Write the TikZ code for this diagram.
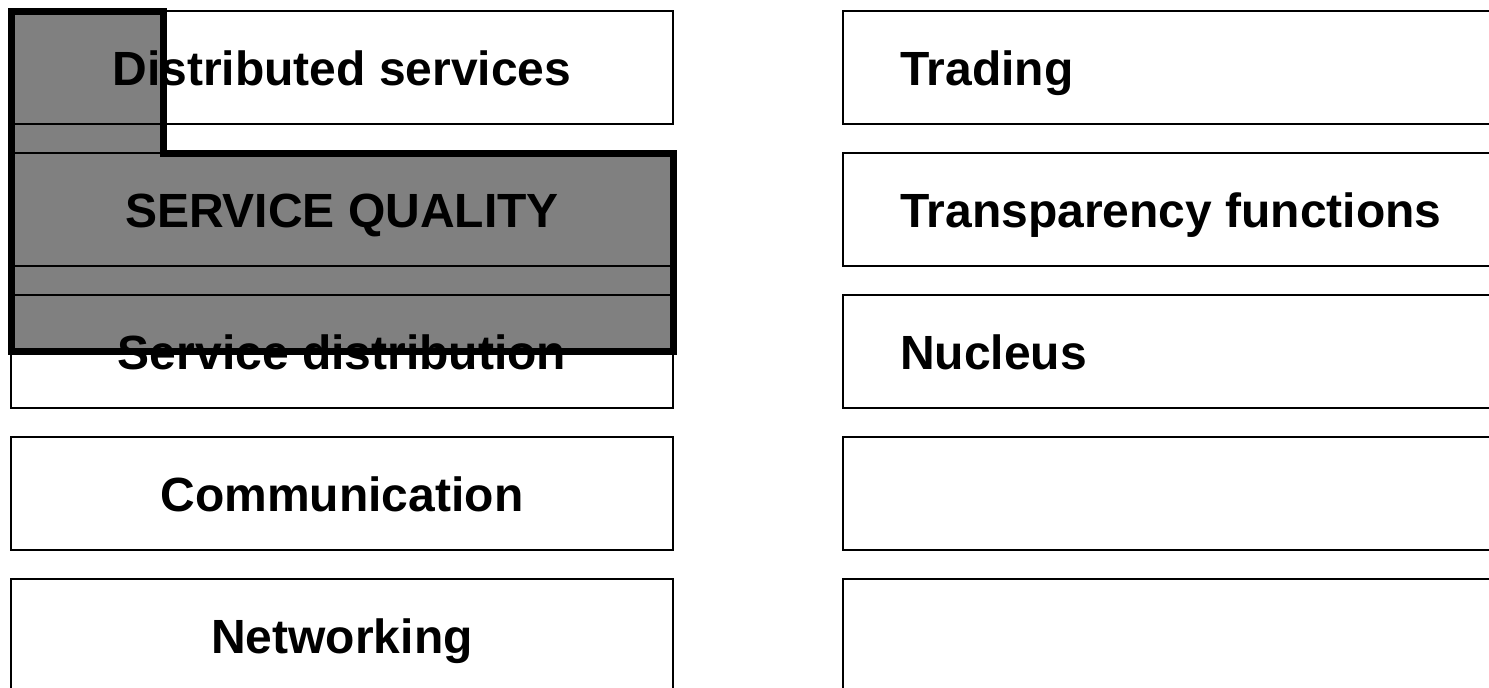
\documentclass[tikz,border=0pt]{standalone}
\usepackage{fontspec}
\setmainfont{Liberation Sans}
\definecolor{shade}{RGB}{128,128,128}
\begin{document}
\begin{tikzpicture}[x=1pt,y=-1pt,
  layerbox/.style={draw=black,line width=1.3pt,rectangle,minimum width=662pt,minimum height=113pt,inner sep=0pt,outer sep=0pt},
  lbl/.style={font=\fontsize{48}{50}\selectfont\bfseries,inner sep=0pt,anchor=base},
  lbll/.style={lbl,anchor=base west},
  overlay shape/.style={fill=shade,draw=black,line width=7pt,line join=miter}]
\clip (0,0) rectangle (1489,688);
\useasboundingbox (0,0) rectangle (1489,688);
% highlighted region
\filldraw[overlay shape] (11.5,11) -- (163.5,11) -- (163.5,153) -- (673,153) -- (673,351) -- (11.5,351) -- cycle;
% left column
\node[layerbox] (l1) at (342,67.5) {};
\node[layerbox] (l2) at (342,209.5) {};
\node[layerbox] (l3) at (342,351.5) {};
\node[layerbox] (l4) at (342,493.5) {};
\node[layerbox] (l5) at (342,635.5) {};
% right column
\node[layerbox] (r1) at (1174,67.5) {};
\node[layerbox] (r2) at (1174,209.5) {};
\node[layerbox] (r3) at (1174,351.5) {};
\node[layerbox] (r4) at (1174,493.5) {};
\node[layerbox] (r5) at (1174,635.5) {};
% labels
\node[lbl] (t1) at (342,85) {Distributed services};
\node[lbl] (t2) at (342,227) {SERVICE QUALITY};
\node[lbl] (t3) at (342,369) {Service distribution};
\node[lbl] (t4) at (342,511) {Communication};
\node[lbl] (t5) at (342,653) {Networking};
\node[lbll] (u1) at (900,85) {Trading};
\node[lbll] (u2) at (900,227) {Transparency functions};
\node[lbll] (u3) at (900,369) {Nucleus};
\end{tikzpicture}
\end{document}
